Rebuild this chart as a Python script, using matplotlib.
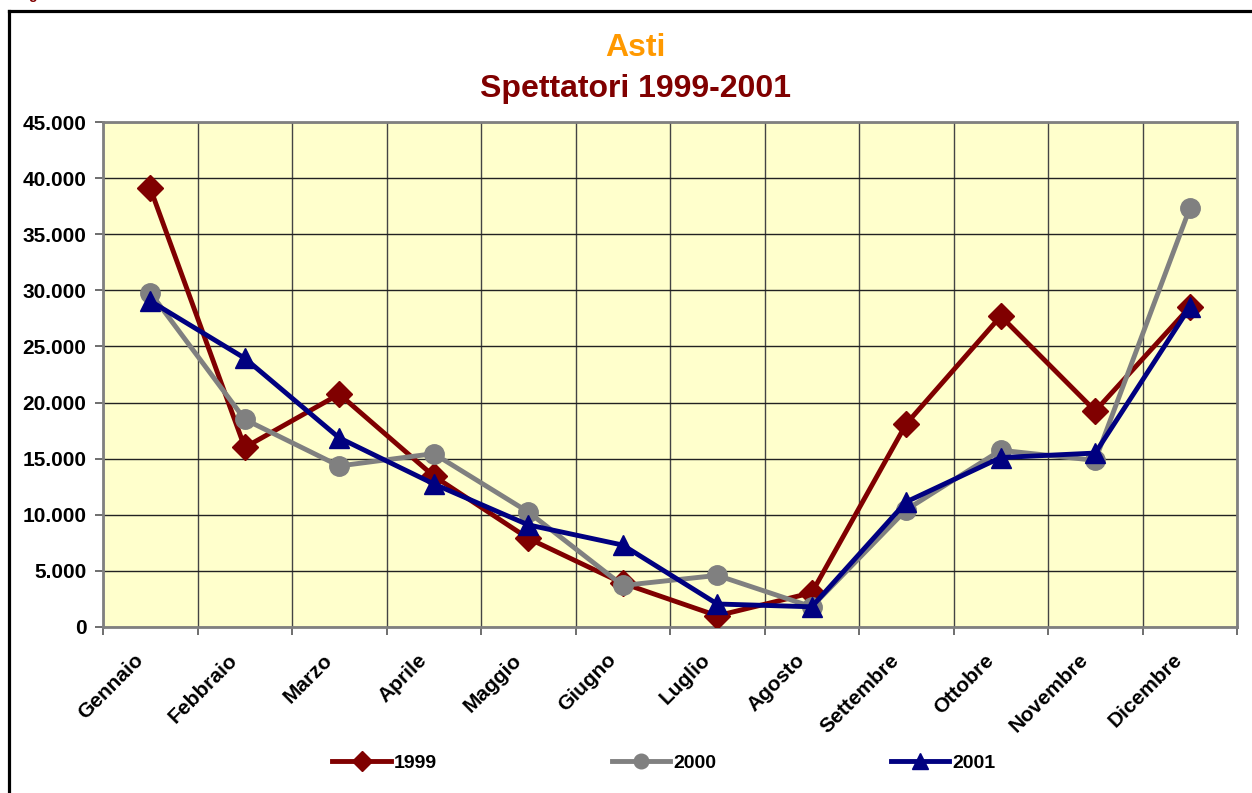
import matplotlib
matplotlib.use("Agg")
import matplotlib.pyplot as plt
from matplotlib.ticker import FuncFormatter, MultipleLocator, FixedLocator, NullFormatter
from matplotlib.lines import Line2D
from matplotlib.transforms import ScaledTranslation

months = ["Gennaio", "Febbraio", "Marzo", "Aprile", "Maggio", "Giugno",
          "Luglio", "Agosto", "Settembre", "Ottobre", "Novembre", "Dicembre"]
s1999 = [39100, 16000, 20750, 13450, 7900, 3900, 1000, 3050, 18100, 27700, 19250, 28500]
s2000 = [29800, 18500, 14350, 15450, 10250, 3700, 4600, 1800, 10450, 15750, 14850, 37300]
s2001 = [29050, 23950, 16850, 12750, 9100, 7300, 2050, 1800, 11150, 15100, 15500, 28500]
series_labels = ["1999", "2000", "2001"]
title1 = "Asti"
title2 = "Spettatori 1999-2001"

plt.rcParams['font.family'] = ['Liberation Sans', 'DejaVu Sans']

W, H = 1252, 793
fig = plt.figure(figsize=(W / 100, H / 100), dpi=100)
fig.patch.set_facecolor('white')

left, right, top, bottom = 103, 1237, 122, 627
ax = fig.add_axes([left / W, 1 - bottom / H, (right - left) / W, (bottom - top) / H])
ax.set_facecolor('#FFFFCC')

x = list(range(len(months)))
ax.plot(x, s1999, color='#800000', lw=3.5, marker='D', ms=13, label=series_labels[0], zorder=3)
ax.plot(x, s2000, color='#808080', lw=3.5, marker='o', ms=14, label=series_labels[1], zorder=4)
ax.plot(x, s2001, color='#000080', lw=3.5, marker='^', ms=15, label=series_labels[2], zorder=5)

ax.set_xlim(-0.5, len(months) - 0.5)
ax.set_ylim(0, 45000)
ax.yaxis.set_major_locator(MultipleLocator(5000))
ax.yaxis.set_major_formatter(FuncFormatter(lambda v, p: f"{int(v):,}".replace(",", ".")))
ax.xaxis.set_major_locator(FixedLocator(x))
ax.xaxis.set_major_formatter(NullFormatter())
ax.xaxis.set_minor_locator(FixedLocator([i - 0.5 for i in range(len(months) + 1)]))
ax.tick_params(axis='x', which='major', length=0)
ax.tick_params(axis='x', which='minor', length=6, width=1.2, color='#555555', direction='out')
ax.tick_params(axis='y', length=6, width=1.2, color='#555555', labelsize=15, pad=6)
for lab in ax.get_yticklabels():
    lab.set_fontweight('bold')

# category labels, rotated
lab_tr = ax.get_xaxis_transform() + ScaledTranslation(-0.10, -0.30, fig.dpi_scale_trans)
for i, m in enumerate(months):
    ax.text(i, 0, m, transform=lab_tr, rotation=45, ha='right', va='center',
            rotation_mode='anchor', fontsize=15, fontweight='bold', clip_on=False)

ax.grid(axis='y', which='major', color='#222222', lw=1.0, zorder=1)
ax.grid(axis='x', which='minor', color='#444444', lw=1.0, zorder=1)
ax.set_axisbelow(True)
for sp in ax.spines.values():
    sp.set_color('#808080')
    sp.set_linewidth(2)

fig.text(635 / W, 1 - 48 / H, title1, color='#FF9900', fontsize=23, fontweight='bold',
         ha='center', va='center')
fig.text(635 / W, 1 - 89 / H, title2, color='#800000', fontsize=23, fontweight='bold',
         ha='center', va='center')

# outer frame
fig.add_artist(Line2D([9 / W, 9 / W], [0, 1 - 11 / H], transform=fig.transFigure,
                      color='black', lw=2.3))
fig.add_artist(Line2D([9 / W, 1.01], [1 - 11 / H, 1 - 11 / H], transform=fig.transFigure,
                      color='black', lw=2.3))
fig.text(28 / W, 1 + 1 / H, 'g', color='#800000', fontsize=10, fontweight='bold', va='baseline')

handles, labels = ax.get_legend_handles_labels()
leg = fig.legend(handles, labels, loc='center', bbox_to_anchor=(664 / W, 1 - 763 / H),
                 ncol=3, frameon=False, handlelength=3.0, handletextpad=0.15,
                 columnspacing=9.0, prop={'weight': 'bold', 'size': 14}, markerscale=0.75)

fig.savefig('out.png', dpi=100, facecolor='white')
